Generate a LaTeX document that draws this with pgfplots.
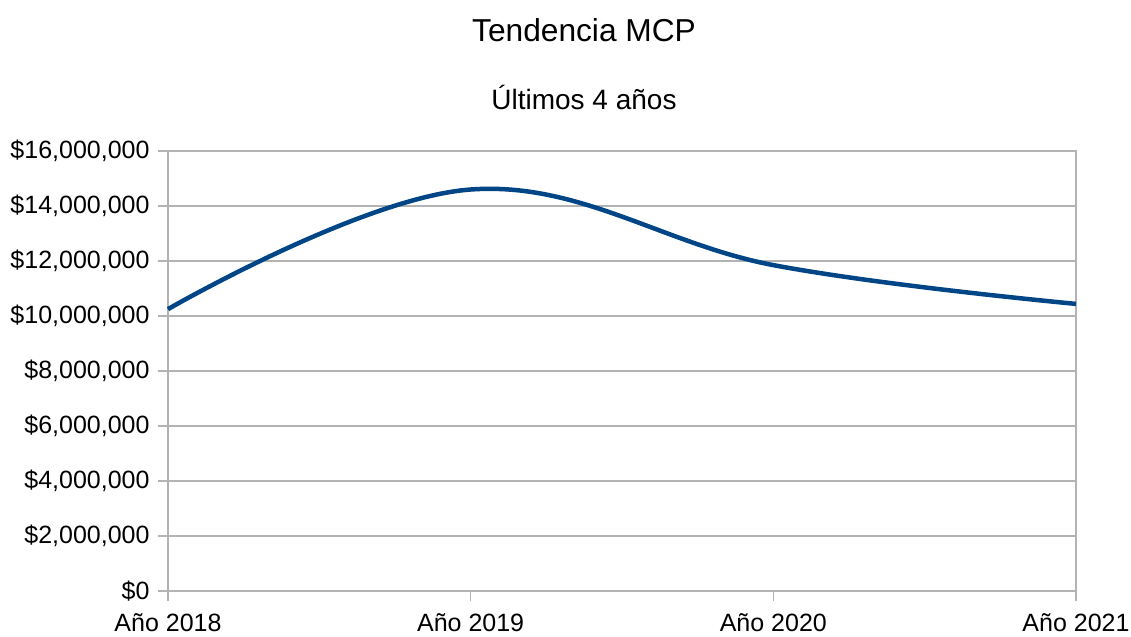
\documentclass[border=0pt]{standalone}
\usepackage{fontspec}
\setmainfont{Liberation Sans}
\usepackage{pgfplots}
\pgfplotsset{compat=1.18}
\definecolor{lineblue}{HTML}{004586}
\definecolor{gridgray}{HTML}{B3B3B3}
\begin{document}
\begin{tikzpicture}
\useasboundingbox (0,0) rectangle (1131bp,637bp);
\begin{axis}[
  scale only axis,
  width=908bp, height=440bp,
  at={(168bp,46bp)}, anchor=south west,
  xmin=0, xmax=3,
  ymin=0, ymax=16000000,
  xtick={0,1,2,3},
  xticklabels={Año 2018,Año 2019,Año 2020,Año 2021},
  ytick={0,2000000,4000000,6000000,8000000,10000000,12000000,14000000,16000000},
  yticklabels={{\$0},{\$2,000,000},{\$4,000,000},{\$6,000,000},{\$8,000,000},{\$10,000,000},{\$12,000,000},{\$14,000,000},{\$16,000,000}},
  scaled y ticks=false,
  tick pos=left,
  tick align=outside,
  major tick length=10bp,
  every tick/.style={gridgray, line width=1.3bp},
  axis line style={gridgray, line width=1.3bp},
  ymajorgrids,
  major grid style={gridgray, line width=1.3bp},
  ticklabel style={font=\fontsize{25bp}{28bp}\selectfont, text=black},
  yticklabel style={xshift=-5bp},
  xticklabel style={yshift=-9bp},
  clip=false,
]
\addplot[lineblue, line width=4.5bp, smooth, tension=0.65] coordinates {
  (0,10250000) (1,14600000) (2,11850000) (3,10440000)
};
\end{axis}
\node[font=\fontsize{31.7bp}{36bp}\selectfont] at (584bp,607bp) {Tendencia MCP};
\node[font=\fontsize{28bp}{32bp}\selectfont] at (584bp,539bp) {Últimos 4 años};
\end{tikzpicture}
\end{document}
